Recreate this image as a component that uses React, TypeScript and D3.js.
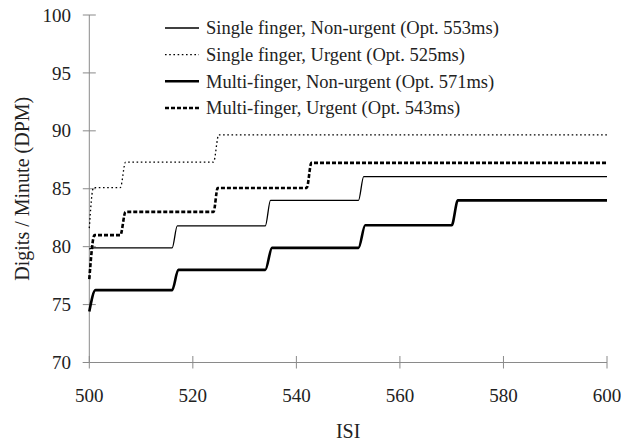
import React from "react";
import * as d3 from "d3";

const xTicks = [500, 520, 540, 560, 580, 600];
const yTicks = [70, 75, 80, 85, 90, 95, 100];

const singleNonUrgent: [number, number][] = [
  [500, 79.8], [501, 79.9], [516, 79.9], [517, 81.8], [534, 81.8], [535, 84.0],
  [552, 84.0], [553, 86.05], [600, 86.05],
];
const singleUrgent: [number, number][] = [
  [500, 81.6], [500.8, 85.1], [506, 85.1], [507, 87.3], [524, 87.3], [525, 89.65], [600, 89.65],
];
const multiNonUrgent: [number, number][] = [
  [500, 74.4], [501.2, 76.25], [516, 76.25], [517.2, 78.0], [534, 78.0], [535.3, 79.9],
  [552, 79.9], [553.3, 81.85], [570, 81.85], [571.2, 84.0], [600, 84.0],
];
const multiUrgent: [number, number][] = [
  [500, 77.2], [501, 81.0], [506, 81.0], [507, 83.0], [524, 83.0], [524.8, 85.07],
  [542, 85.07], [542.9, 87.23], [600, 87.23],
];

const seriesLabels = [
  "Single finger, Non-urgent (Opt. 553ms)",
  "Single finger, Urgent (Opt. 525ms)",
  "Multi-finger, Non-urgent (Opt. 571ms)",
  "Multi-finger, Urgent (Opt. 543ms)",
];
const seriesData = [singleNonUrgent, singleUrgent, multiNonUrgent, multiUrgent];
const seriesStyles = [
  { w: 1.3, dash: "" },
  { w: 1.3, dash: "1.6 2.6" },
  { w: 2.6, dash: "" },
  { w: 2.6, dash: "4 2" },
];

export default function App() {
  const W = 621, H = 442;
  const x = d3.scaleLinear().domain([500, 600]).range([89.3, 607]);
  const y = d3.scaleLinear().domain([70, 100]).range([362.5, 15]);
  const line = d3
    .line<[number, number]>()
    .x((d) => x(d[0]))
    .y((d) => y(d[1]))
    .curve(d3.curveMonotoneX);
  const axisColor = "#8a8a8a";
  const font = "'Liberation Serif', 'Times New Roman', serif";
  const legendRows = [28, 54.7, 81.3, 108];

  return (
    <svg
      width={W}
      height={H}
      style={{ position: "absolute", left: 0, top: 0, background: "#fff" }}
      fontFamily={font}
    >
      {/* axes */}
      <line x1={x(500)} x2={x(500)} y1={y(100)} y2={y(70)} stroke={axisColor} strokeWidth={1} />
      <line x1={x(500) - 6.5} x2={x(600)} y1={y(70)} y2={y(70)} stroke={axisColor} strokeWidth={1} />
      {yTicks.map((t) => (
        <g key={"y" + t}>
          <line x1={x(500) - 6.5} x2={x(500) + 6.5} y1={y(t)} y2={y(t)} stroke={axisColor} />
          <text x={71} y={y(t)} dy="0.35em" textAnchor="end" fontSize={19} fill="#222">
            {t}
          </text>
        </g>
      ))}
      {xTicks.map((t) => (
        <g key={"x" + t}>
          <line x1={x(t)} x2={x(t)} y1={y(70) - 6.5} y2={y(70) + 6} stroke={axisColor} />
          <text x={x(t)} y={402} textAnchor="middle" fontSize={19} fill="#222">
            {t}
          </text>
        </g>
      ))}
      <text x={(x(500) + x(600)) / 2} y={438} textAnchor="middle" fontSize={20} fill="#222">
        ISI
      </text>
      <text
        transform={`translate(29, ${(y(70) + y(100)) / 2}) rotate(-90)`}
        textAnchor="middle"
        fontSize={20}
        fill="#222"
      >
        Digits / Minute (DPM)
      </text>

      {/* series */}
      {seriesData.map((d, i) => (
        <path
          key={"s" + i}
          d={line(d) || ""}
          fill="none"
          stroke="#000"
          strokeWidth={seriesStyles[i].w}
          strokeDasharray={seriesStyles[i].dash || undefined}
        />
      ))}

      {/* legend */}
      {seriesLabels.map((lab, i) => (
        <g key={"l" + i}>
          <line
            x1={165}
            x2={199}
            y1={legendRows[i]}
            y2={legendRows[i]}
            stroke="#000"
            strokeWidth={seriesStyles[i].w}
            strokeDasharray={seriesStyles[i].dash || undefined}
          />
          <text x={206} y={legendRows[i]} dy="0.35em" fontSize={18.5} fill="#222">
            {lab}
          </text>
        </g>
      ))}
    </svg>
  );
}
